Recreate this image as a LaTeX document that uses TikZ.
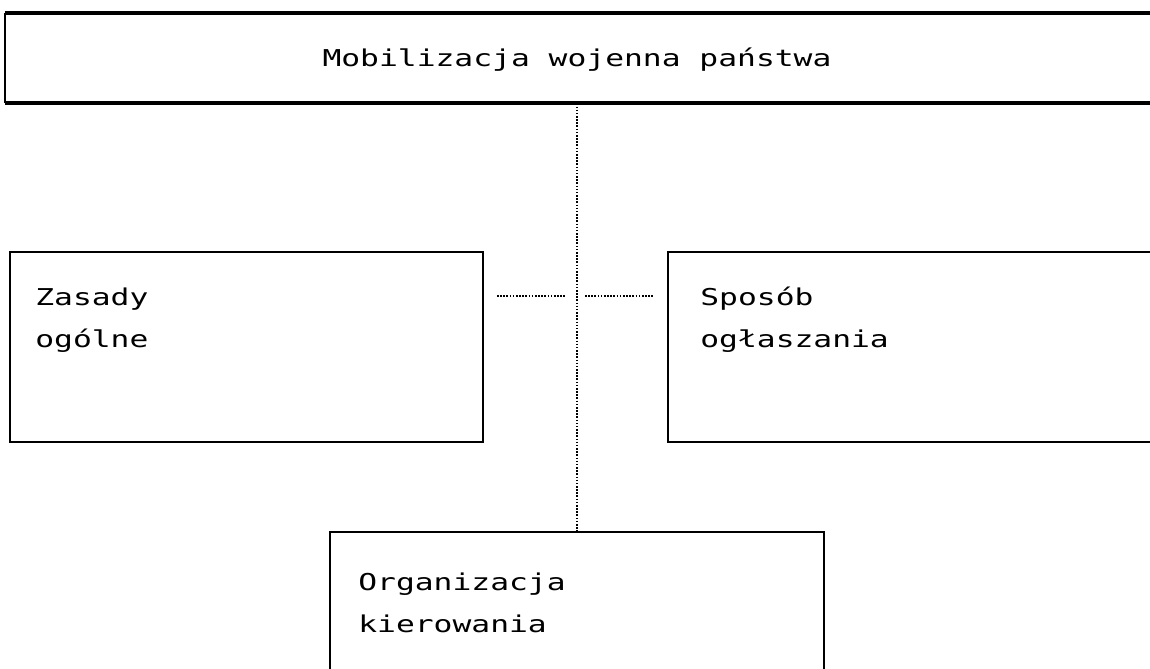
\documentclass[tikz,border=0pt]{standalone}
\usepackage{fontspec}
\newfontfamily\dotmono[FakeStretch=1.35]{DejaVu Sans Mono}
\begin{document}
\begin{tikzpicture}[x=0.02cm,y=-0.02cm,
  boxnode/.style={draw=black,line width=0.8pt,minimum width=#1,inner sep=0pt},
  lbl/.style={anchor=base west,inner sep=0pt,font=\dotmono\fontsize{13.2}{16}\selectfont},
  dotline/.style={line width=0.9pt,dash pattern=on 0.9pt off 0.9pt}]
\useasboundingbox (0,0) rectangle (1150,669);
\begin{scope}
\clip (0,0) rectangle (1150,669);
% top box
\node[minimum width=23.1cm,minimum height=1.8cm,inner sep=0pt] (top) at (582.5,58) {};
\draw[line width=2.2pt] (top.north west) -- (top.north east);
\draw[line width=2.2pt] (top.south west) -- (top.south east);
\draw[line width=1pt] (top.north west) -- (top.south west);
\node[anchor=base,inner sep=0pt,font=\dotmono\fontsize{13.2}{16}\selectfont] (toptxt) at (577,67) {Mobilizacja wojenna państwa};
% left box
\node[boxnode=9.46cm,minimum height=3.8cm] (left) at (246.5,347) {};
\node[lbl] (l1) at (35,305) {Zasady};
\node[lbl] (l2) at (35,347) {ogólne};
% right box
\node[boxnode=9.84cm,minimum height=3.8cm] (right) at (914,347) {};
\node[lbl] (r1) at (700,305) {Sposób};
\node[lbl] (r2) at (700,347) {ogłaszania};
% bottom box
\node[boxnode=9.88cm,minimum height=3.36cm] (bot) at (577,616) {};
\node[lbl] (b1) at (358,590) {Organizacja};
\node[lbl] (b2) at (358,632) {kierowania};
% connectors
\draw[dotline] (top.south -| bot.north) -- (bot.north);
\coordinate (ha) at (497,296);
\coordinate (hb) at (565,296);
\coordinate (hc) at (585,296);
\coordinate (hd) at (653,296);
\draw[dotline] (ha) -- (hb);
\draw[dotline] (hc) -- (hd);
\end{scope}
\end{tikzpicture}
\end{document}
